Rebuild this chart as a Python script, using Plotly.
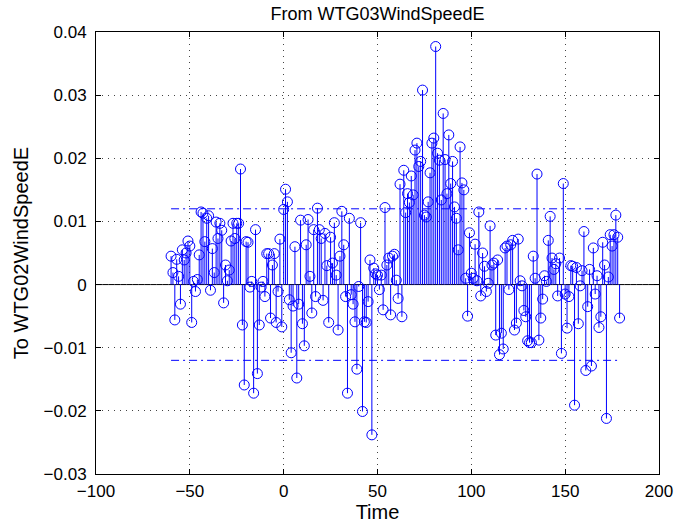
import plotly.graph_objects as go

lags = list(range(-60, 180))

xcorr_values = [
    # -60 .. -41
    0.0045, 0.0019, -0.0056, 0.0040, 0.0013, -0.0031, 0.0055, 0.0039, 0.0050, 0.0069,
    0.0061, -0.0060, 0.0005, -0.0011, 0.0008, 0.0047, 0.0115, 0.0113, 0.0068, 0.0105,
    # -40 .. -21
    0.0109, -0.0009, 0.0057, 0.0019, 0.0099, 0.0073, 0.0097, 0.0086, -0.0029, 0.0031,
    0.0006, 0.0023, 0.0069, 0.0097, 0.0073, 0.0097, 0.0097, 0.0183, -0.0064, -0.0159,
    # -20 .. -1
    0.0068, 0.0067, -0.0004, 0.0005, -0.0172, 0.0087, -0.0141, -0.0064, -0.0004, 0.0005,
    -0.0019, 0.0049, 0.0049, -0.0053, 0.0031, 0.0049, -0.0060, -0.0011, 0.0072, -0.0067,
    # 0 .. 19
    0.0119, 0.0151, 0.0131, -0.0024, -0.0108, -0.0034, 0.0060, -0.0148, -0.0031, 0.0102,
    -0.0062, -0.0097, 0.0063, 0.0103, 0.0013, -0.0045, 0.0087, -0.0019, 0.0121, 0.0087,
    # 20 .. 39
    0.0073, -0.0025, 0.0081, 0.0030, -0.0060, 0.0075, 0.0034, 0.0098, 0.0015, -0.0072,
    0.0045, 0.0116, 0.0063, -0.0019, -0.0172, 0.0105, -0.0016, -0.0031, -0.0059, -0.0134,
    # 40 .. 59
    -0.0003, 0.0098, -0.0201, -0.0059, -0.0060, -0.0027, 0.0039, -0.0238, 0.0026, 0.0017,
    0.0015, -0.0008, 0.0015, -0.0040, 0.0122, 0.0031, 0.0042, -0.0048, 0.0045, 0.0048,
    # 60 .. 79
    0.0007, -0.0022, 0.0159, -0.0051, 0.0181, 0.0114, 0.0144, 0.0130, 0.0172, 0.0142,
    0.0213, 0.0224, 0.0187, 0.0195, 0.0308, 0.0110, 0.0107, 0.0131, 0.0177, 0.0224,
    # 80 .. 99
    0.0232, 0.0377, 0.0208, 0.0197, 0.0134, 0.0271, 0.0198, 0.0144, 0.0237, 0.0160,
    0.0195, 0.0123, 0.0105, 0.0055, 0.0218, 0.0161, 0.0150, 0.0010, -0.0050, 0.0082,
    # 100 .. 119
    0.0018, 0.0010, 0.0064, 0.0006, 0.0115, -0.0018, 0.0050, 0.0029, -0.0011, 0.0002,
    0.0093, 0.0031, 0.0034, -0.0080, 0.0039, -0.0111, -0.0077, -0.0102, 0.0058, 0.0061,
    # 120 .. 139
    -0.0008, 0.0063, 0.0070, -0.0072, -0.0061, 0.0072, 0.0006, -0.0002, -0.0041, -0.0051,
    -0.0089, -0.0092, -0.0092, 0.0045, 0.0010, 0.0175, -0.0088, -0.0053, -0.0023, 0.0014,
    # 140 .. 159
    0.0005, 0.0070, 0.0108, 0.0042, 0.0024, 0.0033, -0.0018, 0.0042, -0.0109, 0.0160,
    -0.0015, -0.0069, -0.0019, 0.0030, 0.0029, -0.0191, 0.0027, -0.0062, -0.0002, 0.0022,
    # 160 .. 179
    0.0084, -0.0136, -0.0035, 0.0024, -0.0129, 0.0058, -0.0015, 0.0014, -0.0068, -0.0051,
    0.0067, 0.0031, -0.0212, 0.0012, 0.0079, 0.0061, 0.0079, 0.0110, 0.0075, -0.0053,
]

conf_bound = 0.012
title_text = "From WTG03WindSpeedE"
x_label = "Time"
y_label = "To WTG02WindSpeedE"
x_ticks = [-100, -50, 0, 50, 100, 150, 200]
y_ticks = [-0.03, -0.02, -0.01, 0, 0.01, 0.02, 0.03, 0.04]

blue = "#0000ff"
font_family = "Liberation Sans, Arial, Helvetica, sans-serif"

stem_x, stem_y = [], []
for l, v in zip(lags, xcorr_values):
    stem_x += [l, l, None]
    stem_y += [0, v, None]

fig = go.Figure()

# baseline
fig.add_shape(type="line", xref="paper", yref="y", x0=0, x1=1, y0=0, y1=0,
              line=dict(color="black", width=1), layer="below")

fig.add_trace(go.Scatter(x=stem_x, y=stem_y, mode="lines",
                         line=dict(color=blue, width=1), hoverinfo="skip",
                         showlegend=False))
fig.add_trace(go.Scatter(x=lags, y=xcorr_values, mode="markers",
                         marker=dict(symbol="circle-open", size=10, color=blue,
                                     line=dict(width=1, color=blue)),
                         showlegend=False))
for b in (conf_bound, -conf_bound):
    fig.add_trace(go.Scatter(x=[lags[0], lags[-1]], y=[b, b], mode="lines",
                             line=dict(color=blue, width=1, dash="8px,4px,2px,4px"),
                             showlegend=False))

axis_common = dict(showline=True, linecolor="black", linewidth=1, mirror="ticks",
                   ticks="inside", ticklen=5, tickcolor="black", automargin=False,
                   showgrid=True, gridcolor="#444444", gridwidth=1, griddash="1px,5px",
                   zeroline=False, tickfont=dict(size=17, color="black", family=font_family))

fig.update_xaxes(range=[-100, 200], tickvals=x_ticks, ticklabelstandoff=2,
                 title=dict(text=x_label, font=dict(size=20, color="black", family=font_family), standoff=1),
                 **axis_common)
fig.update_yaxes(range=[-0.03, 0.04], tickvals=y_ticks, tickformat=".2~f", ticklabelstandoff=5,
                 title=dict(text=y_label, font=dict(size=20, color="black", family=font_family), standoff=9),
                 **axis_common)

fig.update_layout(
    width=679, height=523,
    margin=dict(l=96, r=20, t=32, b=49, autoexpand=False),
    paper_bgcolor="white", plot_bgcolor="white",
    title=dict(text=title_text, x=0.5, xref="paper", xanchor="center",
               y=1 - 14 / 523, yref="container", yanchor="middle",
               font=dict(size=18, color="black", family=font_family)),
    showlegend=False,
)

fig.write_html("out.html", config={"displayModeBar": False},
               post_script="document.body.style.margin='0px';")
